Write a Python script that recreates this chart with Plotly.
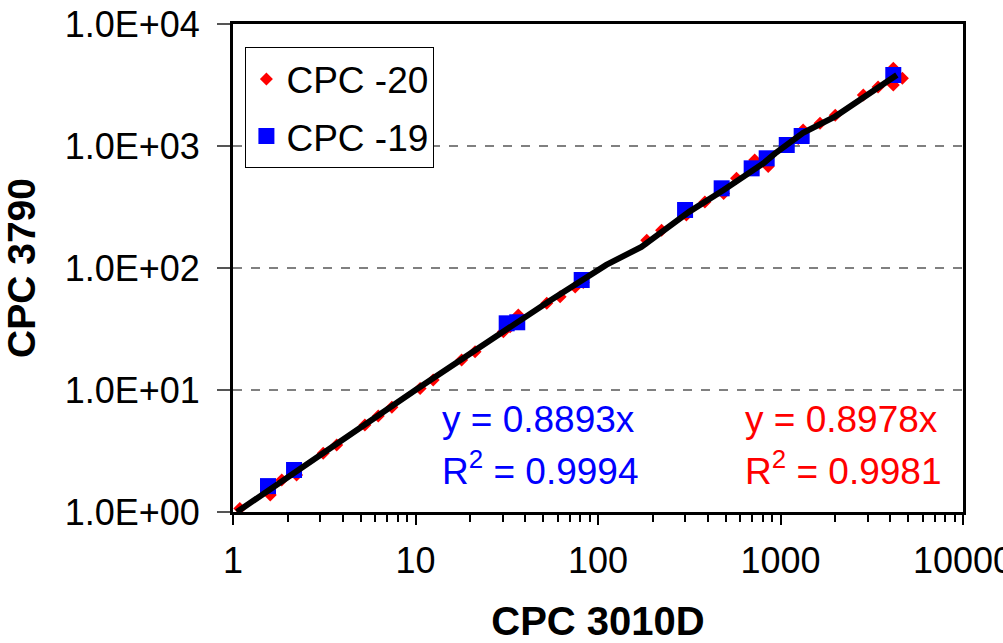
import plotly.graph_objects as go

# CPC -20 (red diamonds)
x_cpc20 = [1.09, 1.6, 1.85, 2.23, 3.12, 3.7, 5.28, 6.25, 7.42, 10.6, 12.5, 17.9, 21.2, 30.3, 33, 36.6,
           52.4, 62, 75, 83, 185, 223, 305, 385, 488, 574, 722, 856, 1082, 1250, 1330, 1646, 1995,
           2844, 3425, 4150, 4655, 4150]
y_cpc20 = [1.07, 1.38, 1.83, 2.01, 3.03, 3.54, 5.17, 6.13, 7.21, 10.3, 12.1, 17.6, 20.6, 30.0, 33, 41.1,
           51.4, 58, 70, 76, 169, 204, 272, 348, 408, 543, 767, 679, 1000, 1150, 1351, 1538, 1788,
           2620, 3046, 4335, 3600, 3160]

# CPC -19 (blue squares)
x_cpc19 = [1.555, 2.16, 31.6, 36.1, 81.4, 300, 476, 695, 840, 1082, 1306, 4150]
y_cpc19 = [1.63, 2.21, 35.2, 35.9, 79.7, 299, 450, 656, 793, 1019, 1208, 3820]

# black line
x_line = [1.05, 10, 55, 111, 173, 317, 488, 803, 935, 1330, 2000, 4340]
y_line = [1.0, 10, 54.5, 106, 149, 290, 435, 718, 870, 1280, 1750, 3820]

x_tickvals = [1, 10, 100, 1000, 10000]
x_ticktext = ["1", "10", "100", "1000", "10000"]
y_tickvals = [1, 10, 100, 1000, 10000]
y_ticktext = ["1.0E+00", "1.0E+01", "1.0E+02", "1.0E+03", "1.0E+04"]

FONT = "Arial, Liberation Sans, sans-serif"

fig = go.Figure()
fig.add_trace(go.Scatter(x=x_cpc20, y=y_cpc20, mode="markers", name="CPC -20",
                         legendgroup="a",
                         marker=dict(symbol="diamond", color="#ff0000", size=10)))
fig.add_trace(go.Scatter(x=x_cpc19, y=y_cpc19, mode="markers", name="CPC -19",
                         legendgroup="b",
                         marker=dict(symbol="square", color="#0000ff", size=16)))
fig.add_trace(go.Scatter(x=x_line, y=y_line, mode="lines", showlegend=False,
                         line=dict(color="black", width=6)))

for txt, xp, yp, col in [("y = 0.8893x", 0.283, 0.19, "#0000ff"),
                         ("R<sup>2</sup> = 0.9994", 0.283, 0.09, "#0000ff"),
                         ("y = 0.8978x", 0.699, 0.19, "#ff0000"),
                         ("R<sup>2</sup> = 0.9981", 0.699, 0.09, "#ff0000")]:
    fig.add_annotation(text=txt, xref="paper", yref="paper", x=xp, y=yp,
                       xanchor="left", yanchor="middle", showarrow=False,
                       font=dict(family=FONT, size=37, color=col))

fig.update_xaxes(type="log", range=[0, 4], tickvals=x_tickvals, ticktext=x_ticktext,
                 automargin=True,
                 showgrid=False, zeroline=False,
                 showline=True, linecolor="black", linewidth=3, mirror=True,
                 ticks="outside", ticklen=10, tickwidth=1.5, tickcolor="black",
                 minor=dict(ticks="outside", ticklen=7, tickwidth=1.5, tickcolor="black",
                            dtick="D1", showgrid=False),
                 tickfont=dict(family=FONT, size=36, color="black"),
                 ticklabelstandoff=5, ticklabeloverflow="allow",
                 title=dict(text="<b>CPC 3010D</b>", font=dict(family=FONT, size=40, color="black"),
                            standoff=32))
fig.update_yaxes(type="log", range=[0, 4], tickvals=y_tickvals, ticktext=y_ticktext,
                 automargin=True,
                 showgrid=True, gridcolor="#808080", griddash="dash", gridwidth=1.5,
                 zeroline=False,
                 showline=True, linecolor="black", linewidth=3, mirror=True,
                 ticks="outside", ticklen=13, tickwidth=1.5, tickcolor="#555555",
                 tickfont=dict(family=FONT, size=36, color="black"),
                 ticklabelstandoff=10,
                 title=dict(text="<b>CPC 3790</b>", font=dict(family=FONT, size=39, color="black"),
                            standoff=19))

fig.update_layout(
    width=1003, height=643,
    margin=dict(l=233, r=40, t=24, b=131, autoexpand=False),
    paper_bgcolor="white", plot_bgcolor="white",
    font=dict(family=FONT, color="black"),
    legend=dict(x=0.017, y=0.952, xanchor="left", yanchor="top",
                bgcolor="white", bordercolor="black", borderwidth=1,
                font=dict(family=FONT, size=37, color="black"),
                traceorder="grouped", tracegroupgap=6, itemwidth=30),
)

fig.write_html("out.html")
